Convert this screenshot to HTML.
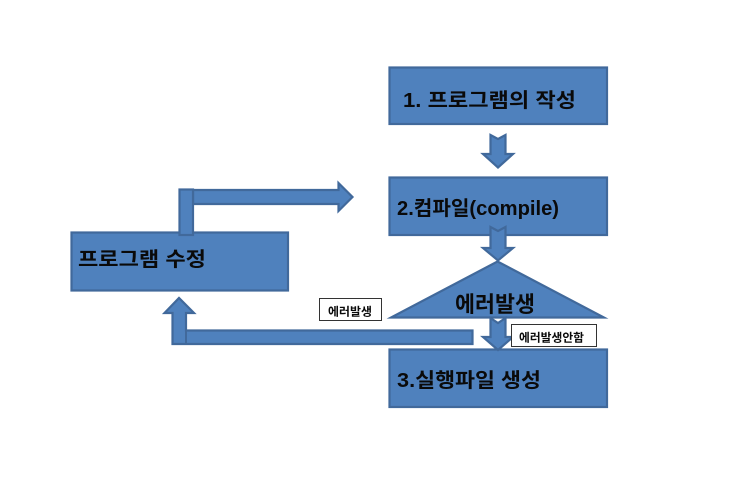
<!DOCTYPE html>
<html><head><meta charset="utf-8"><style>
html,body{margin:0;padding:0;background:#fff;width:740px;height:482px;overflow:hidden}
svg{display:block}
text{font-family:"Liberation Sans","Noto Sans CJK KR",sans-serif;font-weight:700;fill:#0a0a0a}
.s{fill:#4f81bd;stroke:#41699b;stroke-width:2.2;stroke-linejoin:miter;stroke-miterlimit:10}
.l{fill:#fff;stroke:#333;stroke-width:1}
</style></head><body>
<svg width="740" height="482" viewBox="0 0 740 482" xmlns="http://www.w3.org/2000/svg">
<rect class="s" x="389.5" y="67.5" width="217.5" height="56.5"/>
<rect class="s" x="389.5" y="177.5" width="217.5" height="57.5"/>
<rect class="s" x="389.5" y="349.5" width="217.5" height="57.5"/>
<rect class="s" x="71.5" y="232.5" width="216.5" height="58"/>
<polygon class="s" points="490.5,135 498,139 505.5,135 505.5,154 513,154 498,167.5 483,154 490.5,154"/>
<polygon class="s" points="490.5,227 498,231 505.5,227 505.5,248 513,248 498,260.5 483,248 490.5,248"/>
<polygon class="s" points="497.5,261.5 604,317.5 391,317.5"/>
<polygon class="s" points="490.5,318 498,323 505.5,318 505.5,337 513,337 498,350 483,337 490.5,337"/>
<polygon class="s" points="186,330.5 472.5,330.5 472.5,344 172.5,344 172.5,313 164.5,313 179,298 194,313 186,313"/>
<line x1="186" y1="331" x2="186" y2="344" stroke="#41699b" stroke-width="2"/>
<polygon class="s" points="193,190 338.5,190 338.5,183 352.5,197 338.5,211 338.5,204 193,204"/>
<rect class="s" x="179.5" y="189.5" width="13.5" height="45.5"/>
<rect class="l" x="319.5" y="298.5" width="62" height="22"/>
<rect class="l" x="511.5" y="324.5" width="85" height="22"/>
<text x="403" y="107" font-size="20" textLength="173" lengthAdjust="spacingAndGlyphs">1. 프로그램의 작성</text>
<text x="397" y="215" font-size="20" textLength="162" lengthAdjust="spacingAndGlyphs">2.컴파일(compile)</text>
<text x="78" y="266" font-size="20" textLength="128" lengthAdjust="spacingAndGlyphs">프로그램 수정</text>
<text x="455" y="312" font-size="22" textLength="80" lengthAdjust="spacingAndGlyphs">에러발생</text>
<text x="397" y="387" font-size="20" textLength="144" lengthAdjust="spacingAndGlyphs">3.실행파일 생성</text>
<text x="328" y="315.5" font-size="11.5" textLength="44" lengthAdjust="spacingAndGlyphs">에러발생</text>
<text x="519" y="341.5" font-size="11.5" textLength="65" lengthAdjust="spacingAndGlyphs">에러발생안함</text>
</svg>
</body></html>
